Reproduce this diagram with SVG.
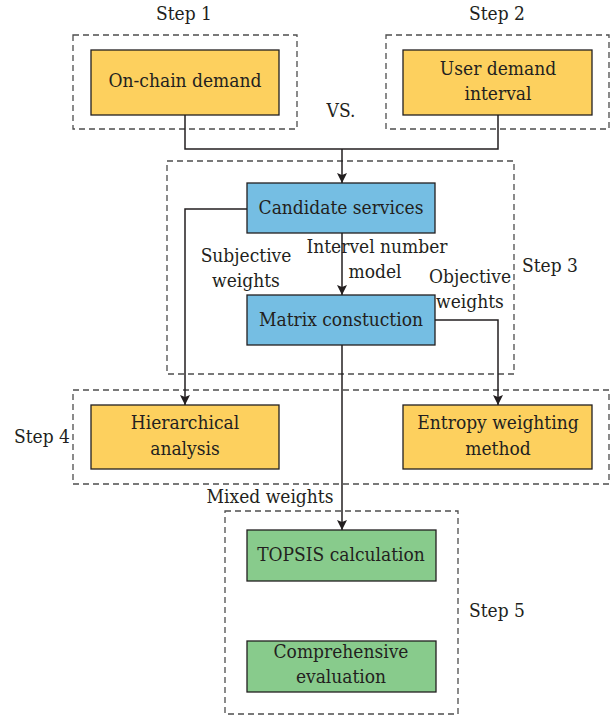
<svg xmlns="http://www.w3.org/2000/svg" width="616" height="718" viewBox="0 0 616 718">
<defs>
<marker id="arr" viewBox="0 0 10 10" refX="10" refY="5" markerWidth="10" markerHeight="10" markerUnits="userSpaceOnUse" orient="auto">
<path d="M0,0 L10,5 L0,10 L2,5 Z" fill="#231f20"/>
</marker>
<style>
text{font-family:"DejaVu Serif",serif;font-stretch:condensed;font-size:19px;fill:#231f20;text-anchor:middle}
.dash{fill:none;stroke:#4d4d4d;stroke-width:1.3;stroke-dasharray:6,4}
.box{stroke:#231f20;stroke-width:1.3}
.or{fill:#fdd05e}
.bl{fill:#75bee3}
.gr{fill:#88cb8c}
.ln{fill:none;stroke:#231f20;stroke-width:1.5}
</style>
</defs>
<rect width="616" height="718" fill="#fff"/>
<g id="groups">
<rect class="dash" x="73" y="35" width="224" height="94"/>
<rect class="dash" x="386" y="35" width="223" height="94"/>
<rect class="dash" x="167" y="161" width="347" height="213"/>
<rect class="dash" x="73" y="390" width="536" height="94"/>
<rect class="dash" x="225" y="511" width="233" height="203"/>
<text x="184" y="20">Step 1</text>
<text x="497" y="20">Step 2</text>
<text x="550" y="272">Step 3</text>
<text x="42" y="443">Step 4</text>
<text x="497" y="617">Step 5</text>
</g>
<g id="connectors">
<polyline class="ln" points="185,115 185,149 498,149 498,115"/>
<line class="ln" x1="342" y1="149" x2="342" y2="183" marker-end="url(#arr)"/>
<line class="ln" x1="342" y1="233" x2="342" y2="295" marker-end="url(#arr)"/>
<polyline class="ln" points="247,209 185,209 185,405" marker-end="url(#arr)"/>
<polyline class="ln" points="435,320 498,320 498,405" marker-end="url(#arr)"/>
<line class="ln" x1="342" y1="345" x2="342" y2="530" marker-end="url(#arr)"/>
<text x="341" y="117">VS.</text>
<text x="246" y="262">Subjective</text>
<text x="246" y="287">weights</text>
<text x="377" y="253">Intervel number</text>
<text x="375" y="278">model</text>
<text x="470" y="283">Objective</text>
<text x="470" y="308">weights</text>
<text x="270" y="503">Mixed weights</text>
</g>
<g id="n-onchain"><rect class="box or" x="91" y="50" width="188" height="65"/><text x="185" y="87">On-chain demand</text></g>
<g id="n-user"><rect class="box or" x="403" y="50" width="189" height="65"/><text x="498" y="75">User demand</text><text x="498" y="100">interval</text></g>
<g id="n-candidate"><rect class="box bl" x="247" y="183" width="188" height="50"/><text x="341" y="214">Candidate services</text></g>
<g id="n-matrix"><rect class="box bl" x="247" y="295" width="188" height="50"/><text x="341" y="326">Matrix constuction</text></g>
<g id="n-hier"><rect class="box or" x="91" y="405" width="188" height="64"/><text x="185" y="429">Hierarchical</text><text x="185" y="455">analysis</text></g>
<g id="n-entropy"><rect class="box or" x="403" y="405" width="189" height="64"/><text x="498" y="429">Entropy weighting</text><text x="498" y="455">method</text></g>
<g id="n-topsis"><rect class="box gr" x="247" y="530" width="189" height="51"/><text x="341" y="561">TOPSIS calculation</text></g>
<g id="n-comp"><rect class="box gr" x="247" y="641" width="189" height="51"/><text x="341" y="658">Comprehensive</text><text x="341" y="683">evaluation</text></g>
</svg>
